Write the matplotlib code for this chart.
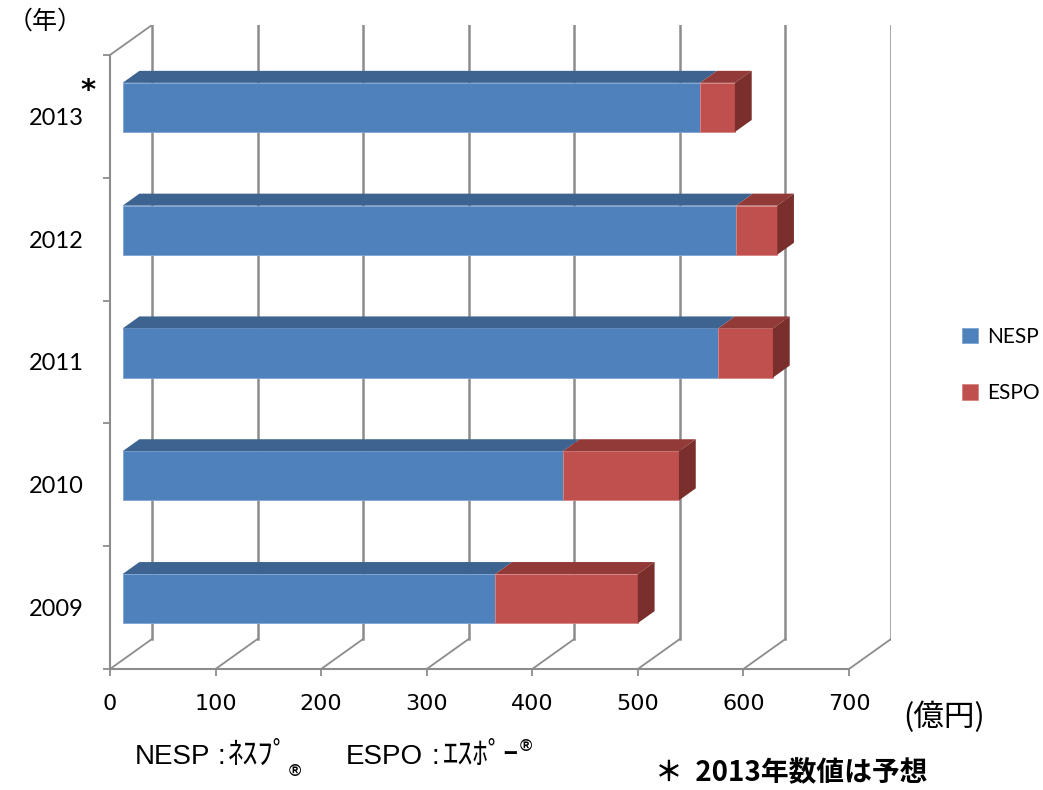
import matplotlib
matplotlib.use('Agg')
import matplotlib.pyplot as plt
from matplotlib.patches import Polygon
import numpy as np

# ── data (億円) ──
years = ['2009', '2010', '2011', '2012', '2013']
nesp = [353, 417, 564, 581, 547]
espo = [135, 110, 52, 39, 33]
xticks = [0, 100, 200, 300, 400, 500, 600, 700]

blue, blue_top = '#4F81BD', '#3D6491'
red, red_top, red_side = '#C0504D', '#913A38', '#7A2F2D'
grid_c = '#8C8C8C'

W, H = 1043, 790
fig = plt.figure(figsize=(W / 100, H / 100), dpi=100)

# front plane in pixels, and the 3D depth vector
x0_px, y0_px = 110, 669
px_val = 739 / 700
px_cat = 614 / 5
dx_full = 42 / px_val
dy_full = 30 / px_cat
xmax = 700 + dx_full
ymax = 5 + dy_full

ax = fig.add_axes([x0_px / W, (H - y0_px) / H,
                   xmax * px_val / W, ymax * px_cat / H])
ax.set_xlim(0, xmax)
ax.set_ylim(0, ymax)

# back wall gridlines + floor diagonals
for v in xticks:
    ax.plot([v + dx_full] * 2, [dy_full, ymax], color=grid_c, lw=1.8, zorder=1)
    ax.plot([v, v + dx_full], [0, dy_full], color=grid_c, lw=1.3, zorder=1)
ax.plot([0, dx_full], [5, ymax], color=grid_c, lw=1.3, zorder=1)

# bars: front face at 0.3 of depth, 0.4 deep
f0, fb = 0.3, 0.4
ox, oy = f0 * dx_full, f0 * dy_full
bx, by = fb * dx_full, fb * dy_full
h = 0.4
yc = np.arange(len(years)) + 0.5

ax.barh(yc + oy, nesp, left=ox, height=h, color=blue, label='NESP', zorder=3,
        edgecolor='#7FA3D3', linewidth=0.6)
ax.barh(yc + oy, espo, left=ox + np.array(nesp), height=h, color=red,
        label='ESPO', zorder=3, edgecolor='#D98583', linewidth=0.6)

for i in range(len(years)):
    yt = yc[i] + oy + h / 2
    yb = yc[i] + oy - h / 2
    l1, r1 = ox, ox + nesp[i]
    r2 = r1 + espo[i]
    for l, r, c in [(l1, r1, blue_top), (r1, r2, red_top)]:
        ax.add_patch(Polygon([(l, yt), (r, yt), (r + bx, yt + by), (l + bx, yt + by)],
                             closed=True, facecolor=c, edgecolor='none', zorder=3))
    ax.add_patch(Polygon([(r2, yb), (r2, yt), (r2 + bx, yt + by), (r2 + bx, yb + by)],
                         closed=True, facecolor=red_side, edgecolor='none', zorder=3))

# axes
for s in ['top', 'right']:
    ax.spines[s].set_visible(False)
ax.spines['bottom'].set_bounds(0, 700)
ax.spines['left'].set_bounds(0, 5)
for s in ['bottom', 'left']:
    ax.spines[s].set_color(grid_c)
    ax.spines[s].set_linewidth(1.5)

ax.set_xticks(xticks)
ax.set_xticklabels([str(v) for v in xticks],
                   fontfamily=['Liberation Sans Narrow', 'DejaVu Sans'], fontsize=16)
ax.tick_params(axis='x', length=5, width=1.3, color=grid_c, pad=13)

ax.set_yticks(range(len(years) + 1))
ax.set_yticklabels([])
ax.set_yticks(yc, minor=True)
ax.set_yticklabels(years, minor=True, fontfamily=['Lato', 'DejaVu Sans'], fontsize=17)
ax.tick_params(axis='y', which='major', length=5, width=1.3, color=grid_c)
ax.tick_params(axis='y', which='minor', length=0, pad=19)

# legend
fig.legend(loc='center left', bbox_to_anchor=(962 / W, 1 - 365 / H), frameon=False,
           borderaxespad=0, borderpad=0,
           handlelength=0.75, handleheight=0.75, handletextpad=0.45, labelspacing=1.75,
           prop={'family': 'Lato', 'size': 15})

# annotations
jp = ['Noto Sans CJK JP', 'DejaVu Sans']
lat = ['Liberation Sans', 'DejaVu Sans']
fig.text(8 / W, 1 - 22 / H, '（年）', family=jp, fontsize=18, va='center')
fig.text(88 / W, 1 - 91 / H, '*', family='DejaVu Sans', fontsize=21,
         fontweight='bold', ha='center', va='center')
fig.text(903 / W, 1 - 717 / H, '(億円)', family=jp, fontsize=22, va='center')

# NESP:ﾈｽﾌﾟ®  ESPO:ｴｽﾎﾟｰ®  (pieces along one baseline)
base = 1 - 764 / H
fig.text(135 / W, base, 'NESP', family=lat, fontsize=20, va='baseline')
fig.text(217 / W, base, ':', family=lat, fontsize=20, va='baseline')
k1 = fig.text(228 / W, base, 'ﾈｽﾌﾟ', family=jp, fontsize=22, va='baseline')
fig.text(346 / W, base, 'ESPO', family=lat, fontsize=20, va='baseline')
fig.text(432 / W, base, ':', family=lat, fontsize=20, va='baseline')
k2 = fig.text(443 / W, base, 'ｴｽﾎﾟｰ', family=jp, fontsize=22, va='baseline')
plt.annotate('®', xy=(1, 0), xycoords=k1, xytext=(0, 0), textcoords='offset points',
             family=lat, fontsize=12, fontweight='bold', va='center',
             annotation_clip=False)
plt.annotate('®', xy=(1, 1), xycoords=k2, xytext=(0, -5), textcoords='offset points',
             family=lat, fontsize=12, fontweight='bold', va='center',
             annotation_clip=False)

fig.text(655 / W, 1 - 773 / H, '＊  2013年数値は予想', family=jp, fontsize=20,
         fontweight='bold', va='center')

plt.savefig('out.png', dpi=100)
